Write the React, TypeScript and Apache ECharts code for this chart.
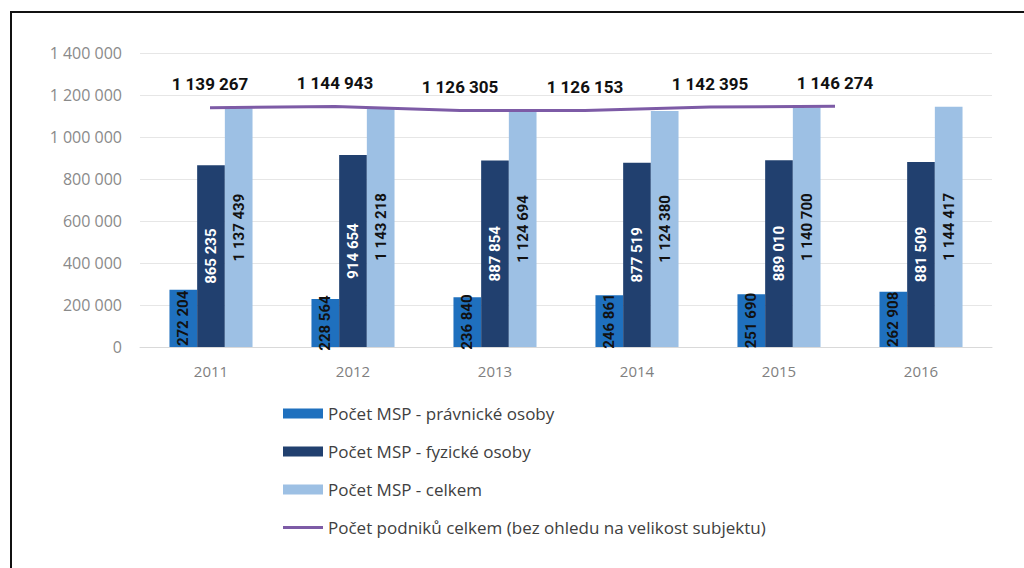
import React, { useEffect, useRef } from "react";
import * as echarts from "echarts";

const years = ["2011", "2012", "2013", "2014", "2015", "2016"];
const pravnicke = [272204, 228564, 236840, 246861, 251690, 262908];
const fyzicke = [865235, 914654, 887854, 877519, 889010, 881509];
const celkemMSP = [1137439, 1143218, 1124694, 1124380, 1140700, 1144417];
const celkemPodniku = [1139267, 1144943, 1126305, 1126153, 1142395, 1146274];
const yTicks = [0, 200000, 400000, 600000, 800000, 1000000, 1200000, 1400000];

const seriesNames = [
  "Počet MSP - právnické osoby",
  "Počet MSP - fyzické osoby",
  "Počet MSP - celkem",
  "Počet podniků celkem (bez ohledu na velikost subjektu)",
];

const fmt = (v: number) => String(v).replace(/\B(?=(\d{3})+(?!\d))/g, " ");

export default function App() {
  const ref = useRef<HTMLDivElement>(null);
  useEffect(() => {
    if (!ref.current) return;
    const chart = echarts.init(ref.current, undefined, { renderer: "svg" });
    const barLabel = (color: string) => ({
      show: true,
      position: "inside" as const,
      rotate: 90,
      color,
      fontFamily: "Roboto",
      fontWeight: "bold" as const,
      fontSize: 15,
      formatter: (p: any) => fmt(p.value),
    });
    chart.setOption({
      animation: false,
      backgroundColor: "#ffffff",
      graphic: [
        {
          type: "rect",
          shape: { x: 11, y: 12, width: 1040, height: 600 },
          style: { fill: "none", stroke: "#111111", lineWidth: 2 },
          silent: true,
        },
      ],
      legend: {
        orient: "vertical",
        left: 283,
        top: 405,
        padding: 0,
        itemWidth: 40,
        itemHeight: 10,
        itemGap: 21,
        textStyle: { fontFamily: "Open Sans", fontSize: 17, color: "#404040" },
        data: [
          { name: seriesNames[0], icon: "rect" },
          { name: seriesNames[1], icon: "rect" },
          { name: seriesNames[2], icon: "rect" },
          { name: seriesNames[3], icon: "path://M0 0H40V3H0Z" },
        ],
      },
      grid: [
        { left: 140, right: 32, top: 53, bottom: 221 },
        { left: 210, right: 189, top: 53, bottom: 221 },
      ],
      xAxis: [
        {
          type: "category",
          gridIndex: 0,
          data: years,
          axisLine: { lineStyle: { color: "#d9d9d9", width: 1 } },
          axisTick: { show: false },
          axisLabel: { color: "#808080", fontFamily: "Open Sans", fontSize: 15, margin: 16 },
        },
        {
          type: "category",
          gridIndex: 1,
          data: years,
          boundaryGap: false,
          show: false,
        },
      ],
      yAxis: [
        {
          type: "value",
          gridIndex: 0,
          min: yTicks[0],
          max: yTicks[yTicks.length - 1],
          interval: 200000,
          axisLine: { show: false },
          axisTick: { show: false },
          splitLine: { lineStyle: { color: "#e6e6e6", width: 1 } },
          axisLabel: {
            color: "#8a8a8a",
            fontFamily: "Open Sans",
            fontSize: 16,
            margin: 18,
            formatter: (v: number) => fmt(v),
          },
        },
        {
          type: "value",
          gridIndex: 1,
          min: yTicks[0],
          max: yTicks[yTicks.length - 1],
          interval: 200000,
          show: false,
        },
      ],
      series: [
        {
          name: seriesNames[0],
          type: "bar",
          data: pravnicke,
          barWidth: "19.5%",
          barGap: "0%",
          itemStyle: { color: "#1f70be" },
          label: barLabel("#111111"),
        },
        {
          name: seriesNames[1],
          type: "bar",
          data: fyzicke,
          barWidth: "19.5%",
          barGap: "0%",
          itemStyle: { color: "#21406f" },
          label: barLabel("#ffffff"),
        },
        {
          name: seriesNames[2],
          type: "bar",
          data: celkemMSP,
          barWidth: "19.5%",
          barGap: "0%",
          itemStyle: { color: "#9dc0e4" },
          label: barLabel("#111111"),
        },
        {
          name: seriesNames[3],
          type: "line",
          xAxisIndex: 1,
          yAxisIndex: 1,
          data: celkemPodniku,
          symbol: "circle",
          symbolSize: 0.1,
          showSymbol: true,
          lineStyle: { color: "#7d5ba6", width: 3 },
          itemStyle: { color: "#7d5ba6" },
          label: {
            show: true,
            position: "top",
            distance: 15,
            color: "#111111",
            fontFamily: "Roboto",
            fontWeight: "bold",
            fontSize: 17,
            formatter: (p: any) => fmt(p.value),
          },
        },
      ],
    });
    return () => chart.dispose();
  }, []);
  return (
    <div
      ref={ref}
      style={{ position: "fixed", left: 0, top: 0, width: 1024, height: 568 }}
    />
  );
}
